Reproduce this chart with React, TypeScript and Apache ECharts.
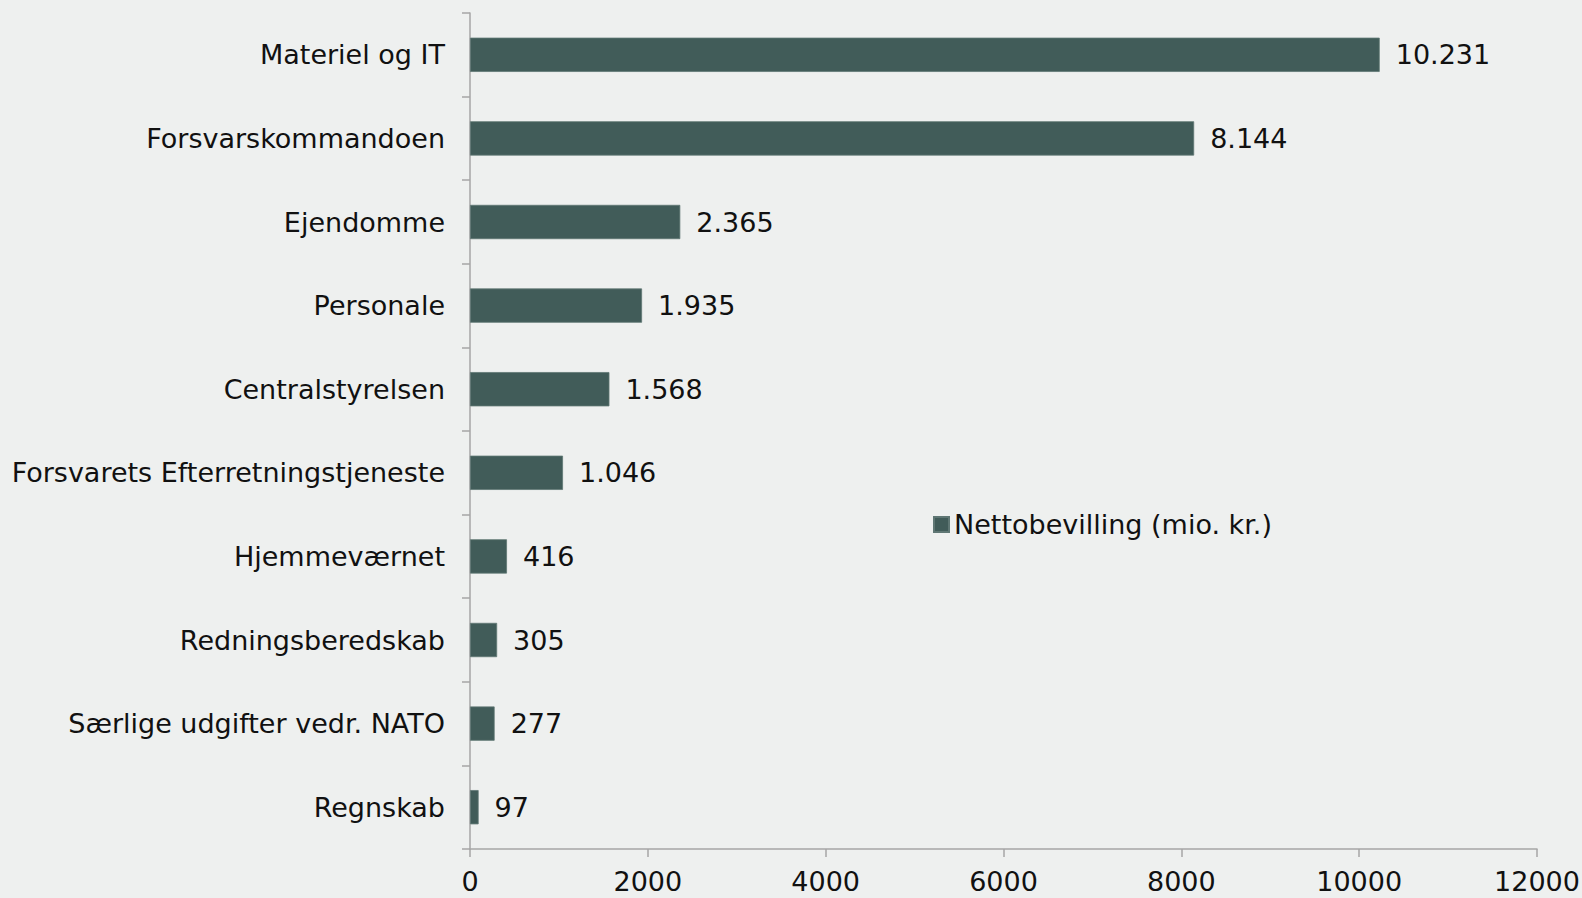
import React, { useEffect, useRef } from "react";
import * as echarts from "echarts";

const categories = [
  "Materiel og IT",
  "Forsvarskommandoen",
  "Ejendomme",
  "Personale",
  "Centralstyrelsen",
  "Forsvarets Efterretningstjeneste",
  "Hjemmeværnet",
  "Redningsberedskab",
  "Særlige udgifter vedr. NATO",
  "Regnskab",
];
const values = [10231, 8144, 2365, 1935, 1568, 1046, 416, 305, 277, 97];
const seriesName = "Nettobevilling (mio. kr.)";
const xTicks = [0, 2000, 4000, 6000, 8000, 10000, 12000];

const FONT = "DejaVu Sans";
const FS = 27;
const fmt = (v: number) => String(v).replace(/\B(?=(\d{3})+(?!\d))/g, ".");

export default function App() {
  const ref = useRef<HTMLDivElement>(null);
  useEffect(() => {
    document.body.style.margin = "0";
    const chart = echarts.init(ref.current!, null, { renderer: "svg" });
    chart.setOption({
      animation: false,
      backgroundColor: "#eef0ef",
      textStyle: { fontFamily: FONT },
      legend: {
        data: [seriesName],
        left: 933,
        top: 511,
        padding: 0,
        itemWidth: 15,
        itemHeight: 15,
        icon: "rect",
        textStyle: { fontFamily: FONT, fontSize: FS, color: "#111" },
      },
      grid: {
        left: 470,
        right: 45,
        top: 13,
        bottom: 49,
        containLabel: false,
        outerBoundsMode: "none",
      },
      xAxis: {
        type: "value",
        min: xTicks[0],
        max: xTicks[xTicks.length - 1],
        interval: 2000,
        splitLine: { show: false },
        axisLine: { show: true, lineStyle: { color: "#a6a6a6", width: 1.5 } },
        axisTick: { show: true, length: 8, lineStyle: { color: "#a6a6a6", width: 1.5 } },
        axisLabel: {
          margin: 19,
          fontFamily: FONT,
          fontSize: FS,
          color: "#111",
          formatter: (v: number) => String(v),
        },
      },
      yAxis: {
        type: "category",
        inverse: true,
        data: categories,
        axisLine: { show: true, lineStyle: { color: "#a6a6a6", width: 1.5 } },
        axisTick: { show: true, length: 8, lineStyle: { color: "#a6a6a6", width: 1.5 } },
        axisLabel: { margin: 25, fontFamily: FONT, fontSize: FS, color: "#111" },
      },
      series: [
        {
          name: seriesName,
          type: "bar",
          data: values,
          barCategoryGap: "59%",
          itemStyle: { color: "#415c59", borderColor: "#5f7774", borderWidth: 0.8 },
          label: {
            show: true,
            position: "right",
            distance: 16,
            fontFamily: FONT,
            fontSize: FS,
            color: "#111",
            formatter: (p: any) => fmt(p.value),
          },
        },
      ],
    });
    return () => chart.dispose();
  }, []);
  return <div ref={ref} style={{ width: 1582, height: 898 }} />;
}
